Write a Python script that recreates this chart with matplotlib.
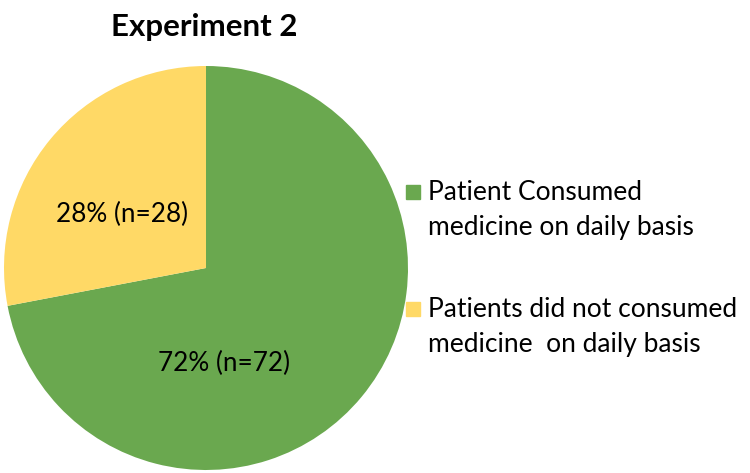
import matplotlib.pyplot as plt
from matplotlib.patches import Rectangle

labels = ["Patient Consumed\nmedicine on daily basis",
          "Patients did not consumed\nmedicine  on daily basis"]
values = [72, 28]
counts = [72, 28]
colors = ["#6AA84F", "#FFD966"]

plt.rcParams["font.family"] = ["Lato", "DejaVu Sans"]

W, H = 750, 473
fig = plt.figure(figsize=(W / 100, H / 100), dpi=100)
# pie centre ~ (206, 268) px, radius ~ 202 px
ax = fig.add_axes([4 / W, 3 / H, 404 / W, 404 / H])

wedges, texts = ax.pie(values, colors=colors, startangle=90, counterclock=False,
                       radius=1.0, wedgeprops=dict(linewidth=0))
ax.set_xlim(-1, 1)
ax.set_ylim(-1, 1)

label_pos = [(0.09, -0.475), (-0.415, 0.267)]
for v, n, (x, y) in zip(values, counts, label_pos):
    ax.text(x, y, f"{v}% (n={n})", ha="center", va="center", fontsize=18.8)

fig.text(204 / W, 1 - 27 / H, "Experiment 2", ha="center", va="center",
         fontsize=22.5, fontweight="bold")

# legend drawn by hand: square aligned with first line of each label
first_baselines = [200, 317]
for lab, col, yb in zip(labels, colors, first_baselines):
    fig.patches.append(Rectangle((406 / W, 1 - (yb - 1) / H), 14 / W, 14 / H,
                                 transform=fig.transFigure, color=col))
    for k, line in enumerate(lab.split("\n")):
        fig.text(428 / W, 1 - (yb + 35 * k) / H, line, ha="left", va="baseline",
                 fontsize=19)

fig.savefig("out.png", dpi=100)
